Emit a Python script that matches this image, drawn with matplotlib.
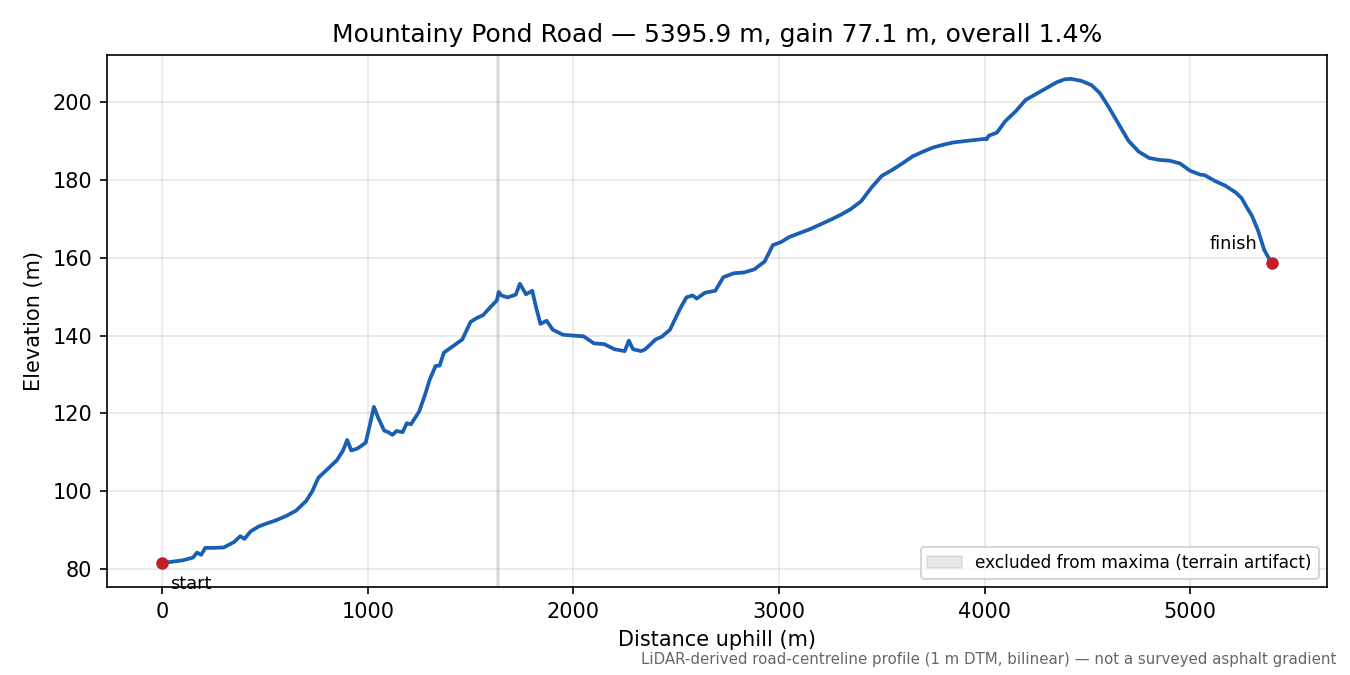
import numpy as np
import matplotlib
matplotlib.use("Agg")
import matplotlib.pyplot as plt

# ---------------------------------------------------------------------
# Profile (distance along road, elevation)
# ---------------------------------------------------------------------
dist_m = [0, 100, 150, 170, 190, 210, 250, 300, 350, 380, 400, 430, 470,
          500, 550, 600, 650, 700, 730, 760, 800, 850, 880, 900, 920, 950,
          990, 1010, 1030, 1050, 1080, 1100, 1120, 1140, 1170, 1190, 1210,
          1250, 1280, 1300, 1330, 1350, 1370, 1420, 1460, 1500, 1530, 1560,
          1600, 1628, 1637, 1650, 1680, 1720, 1740, 1770, 1800, 1820, 1840,
          1870, 1900, 1950, 2000, 2050, 2100, 2150, 2200, 2250, 2270, 2290,
          2330, 2350, 2400, 2430, 2470, 2520, 2550, 2580, 2600, 2640, 2690,
          2730, 2780, 2830, 2880, 2930, 2970, 3010, 3050, 3100, 3150, 3200,
          3250, 3300, 3350, 3400, 3450, 3500, 3550, 3600, 3650, 3700, 3750,
          3800, 3850, 3900, 3950, 4000, 4010, 4020, 4060, 4100, 4150, 4200,
          4250, 4300, 4350, 4390, 4420, 4470, 4520, 4560, 4600, 4650, 4700,
          4750, 4800, 4850, 4900, 4950, 5000, 5050, 5070, 5120, 5170, 5220,
          5250, 5280, 5300, 5330, 5360, 5395.9]
elev_m = [81.6, 82.3, 83.0, 84.3, 83.7, 85.5, 85.5, 85.6, 87.0, 88.5, 87.8,
          89.7, 91.0, 91.6, 92.5, 93.6, 95.0, 97.5, 100.0, 103.5, 105.5,
          108.0, 110.5, 113.2, 110.5, 111.0, 112.5, 117.0, 121.7, 119.0,
          115.6, 115.2, 114.5, 115.5, 115.2, 117.5, 117.2, 120.5, 125.0,
          128.5, 132.2, 132.3, 135.6, 137.5, 139.0, 143.5, 144.5, 145.2,
          147.5, 149.0, 151.2, 150.3, 149.8, 150.5, 153.3, 150.6, 151.5,
          147.0, 143.0, 143.8, 141.5, 140.2, 140.0, 139.8, 138.0, 137.8,
          136.5, 136.0, 138.7, 136.5, 136.0, 136.5, 139.0, 139.7, 141.5,
          147.0, 149.8, 150.3, 149.5, 151.0, 151.5, 155.0, 156.0, 156.2,
          157.0, 159.0, 163.2, 164.0, 165.3, 166.3, 167.3, 168.5, 169.7,
          171.0, 172.5, 174.5, 178.0, 181.0, 182.5, 184.2, 186.0, 187.2,
          188.3, 189.0, 189.6, 189.9, 190.2, 190.5, 190.4, 191.3, 192.1,
          195.0, 197.5, 200.5, 202.0, 203.5, 205.0, 205.8, 205.9, 205.4,
          204.3, 202.3, 199.0, 194.5, 190.0, 187.2, 185.6, 185.1, 184.9,
          184.2, 182.3, 181.3, 181.2, 179.7, 178.5, 176.8, 175.3, 172.5,
          170.8, 167.0, 162.0, 158.6]

# stretch flagged as a terrain artifact
artifact_lo, artifact_hi = 1631, 1640

road = "Mountainy Pond Road"
length_m = 5395.9
gain_m = 77.1
overall_pct = 1.4

LINE = '#1a5fb4'
DOT = '#c41e2a'

fig = plt.figure(figsize=(9, 4.5), dpi=150)
ax = fig.add_axes([0.079, 0.130, 0.904, 0.789])

ax.axvspan(artifact_lo, artifact_hi, facecolor='0.55', edgecolor='0.55',
           alpha=0.2, lw=0.8, label='excluded from maxima (terrain artifact)')
ax.plot(dist_m, elev_m, color=LINE, lw=1.8)
ax.plot([dist_m[0], dist_m[-1]], [elev_m[0], elev_m[-1]], 'o',
        color=DOT, ms=5, zorder=5)
ax.annotate('start', xy=(dist_m[0], elev_m[0]), xytext=(4, -10),
            textcoords='offset points', fontsize=8.5, va='center')
ax.annotate('finish', xy=(dist_m[-1], elev_m[-1]), xytext=(-7, 9),
            textcoords='offset points', fontsize=8.5, ha='right',
            va='center')

ax.set_xlabel('Distance uphill (m)')
ax.set_ylabel('Elevation (m)')
ax.set_title(f'{road} \u2014 {length_m:.1f} m, gain {gain_m:.1f} m, '
             f'overall {overall_pct:.1f}%', fontsize=12)
ax.grid(True, alpha=0.3)
ax.legend(loc='lower right', fontsize=8.2)

fig.text(0.99, 0.012, 'LiDAR-derived road-centreline profile (1 m DTM, '
         'bilinear) \u2014 not a surveyed asphalt gradient',
         ha='right', va='bottom', fontsize=7.2, color='0.4')

fig.savefig('out.png', dpi=150)
